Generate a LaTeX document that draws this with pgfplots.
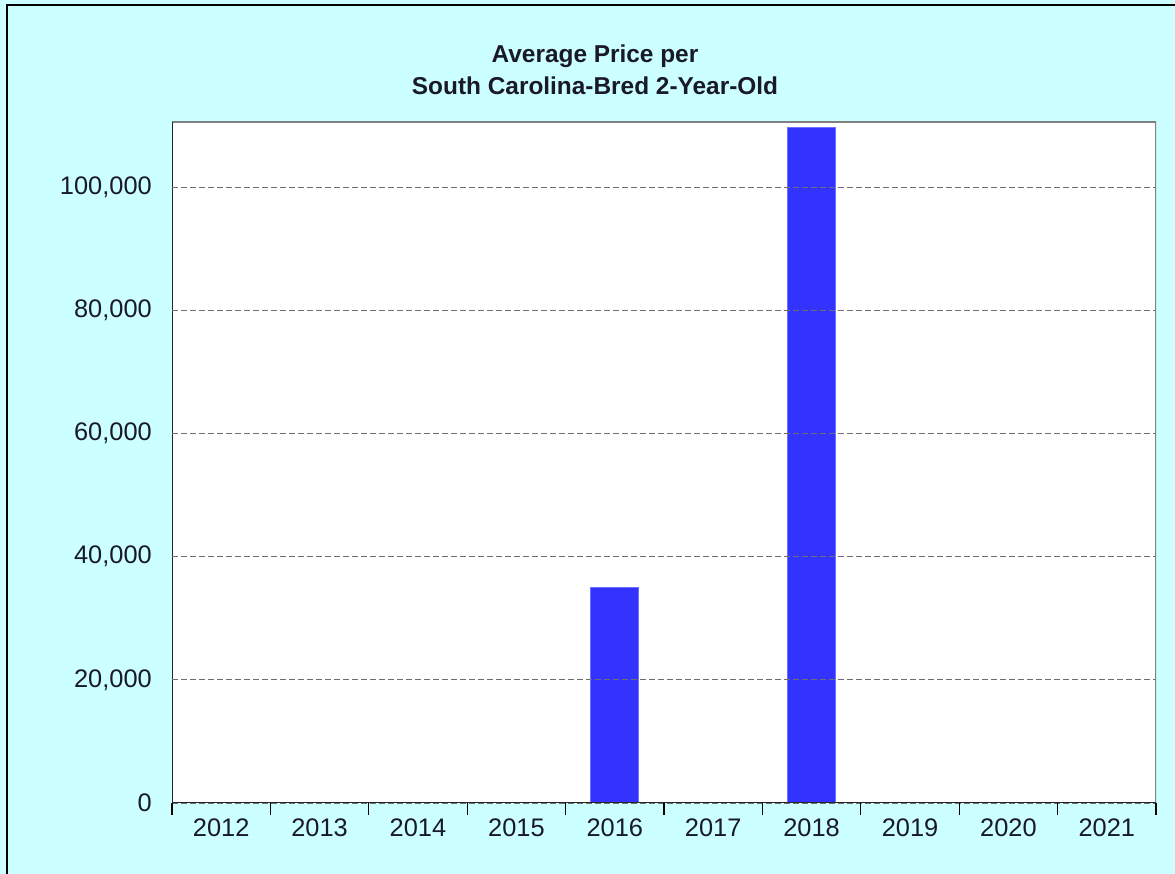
\documentclass[border=0pt]{standalone}
\usepackage{fontspec}
\setmainfont{Liberation Sans}
\usepackage{pgfplots}
\pgfplotsset{compat=1.18}
\definecolor{bgcyan}{RGB}{204,255,255}
\definecolor{barblue}{RGB}{51,51,255}
\definecolor{gridgray}{RGB}{110,110,110}
\definecolor{txt}{RGB}{25,25,40}
\begin{document}
\begin{tikzpicture}[x=1bp,y=1bp]
\useasboundingbox (0,0) rectangle (1175,874);
\fill[bgcyan] (0,0) rectangle (1175,874);
\draw[black, line width=2.2bp] (7,-10) -- (7,869) -- (1190,869);
\node[anchor=base, text=txt, font=\fontsize{24.5}{29}\selectfont\bfseries] at (595,811) {Average Price per};
\node[anchor=base, text=txt, font=\fontsize{24.5}{29}\selectfont\bfseries] at (595,779) {South Carolina-Bred 2-Year-Old};
\begin{axis}[
  at={(172bp,71bp)}, anchor=south west,
  scale only axis, width=984bp, height=681bp,
  xmin=-0.5, xmax=9.5, ymin=0, ymax=110550,
  axis background/.style={fill=white},
  axis line style={draw=none},
  xtick={0,...,9},
  xticklabels={2012,2013,2014,2015,2016,2017,2018,2019,2020,2021},
  minor xtick={-0.5,0.5,...,9.5},
  ytick={0,20000,40000,60000,80000,100000},
  yticklabels={0,{20,000},{40,000},{60,000},{80,000},{100,000}},
  major tick length=0pt, minor tick length=12bp,
  tick align=outside, tick pos=left,
  minor tick style={black, line width=1.2bp},
  ymajorgrids,
  major grid style={gridgray, line width=0.9bp, dash pattern=on 6bp off 3bp},
  axis on top,
  scaled y ticks=false,
  tick label style={font=\fontsize{25.5}{30}\selectfont, text=txt},
  yticklabel style={inner sep=0pt, anchor=east, xshift=-20bp},
  xticklabel style={inner sep=0pt, anchor=north, yshift=-16bp},
]
\addplot[ybar, bar width=48bp, fill=barblue, draw=barblue!70!white, line width=0.8bp]
  coordinates {(4,35000) (6,109600)};
\draw[gray, line width=1.5bp] (rel axis cs:0,1) -- (rel axis cs:1,1) -- (rel axis cs:1,0);
\draw[black!85, line width=1.5bp] (rel axis cs:0,1) -- (rel axis cs:0,0) -- (rel axis cs:1,0);
\end{axis}
\end{tikzpicture}
\end{document}
